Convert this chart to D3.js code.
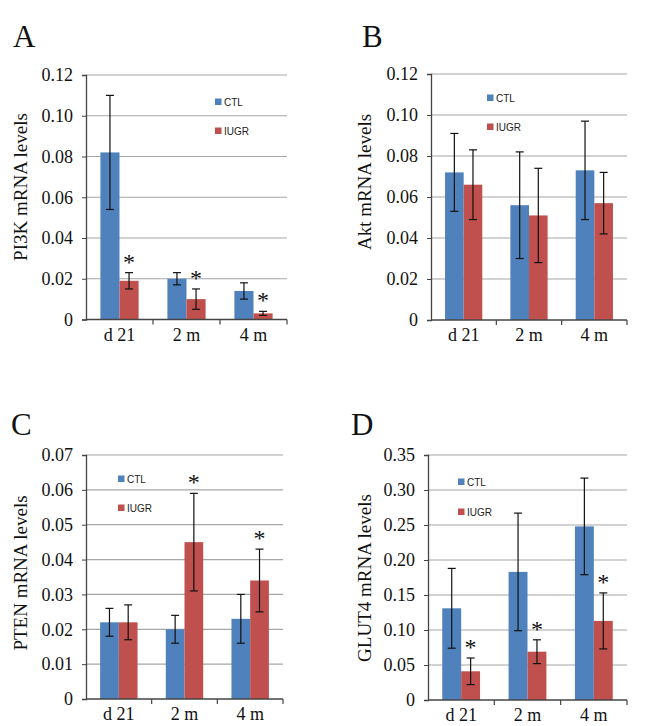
<!DOCTYPE html>
<html><head><meta charset="utf-8">
<script src="https://cdn.jsdelivr.net/npm/d3@7"></script>
<style>body{margin:0;background:#fff}svg{display:block}</style>
</head><body>
<script>
const categories = ["d 21", "2 m", "4 m"];
const seriesNames = ["CTL", "IUGR"];

// Panel A: PI3K
const pi3kCTL = [0.082, 0.020, 0.014];
const pi3kCTLerr = [0.028, 0.003, 0.004];
const pi3kIUGR = [0.019, 0.010, 0.003];
const pi3kIUGRerr = [0.004, 0.005, 0.001];
const pi3kStar = [true, true, true];
const pi3kTicks = [0, 0.02, 0.04, 0.06, 0.08, 0.10, 0.12];

// Panel B: Akt
const aktCTL = [0.072, 0.056, 0.073];
const aktCTLerr = [0.019, 0.026, 0.024];
const aktIUGR = [0.066, 0.051, 0.057];
const aktIUGRerr = [0.017, 0.023, 0.015];
const aktStar = [false, false, false];
const aktTicks = [0, 0.02, 0.04, 0.06, 0.08, 0.10, 0.12];

// Panel C: PTEN
const ptenCTL = [0.022, 0.020, 0.023];
const ptenCTLerr = [0.004, 0.004, 0.007];
const ptenIUGR = [0.022, 0.045, 0.034];
const ptenIUGRerr = [0.005, 0.014, 0.009];
const ptenStar = [false, true, true];
const ptenTicks = [0, 0.01, 0.02, 0.03, 0.04, 0.05, 0.06, 0.07];

// Panel D: GLUT4
const glutCTL = [0.131, 0.183, 0.248];
const glutCTLerr = [0.057, 0.084, 0.069];
const glutIUGR = [0.041, 0.069, 0.113];
const glutIUGRerr = [0.019, 0.017, 0.040];
const glutStar = [true, true, true];
const glutTicks = [0, 0.05, 0.10, 0.15, 0.20, 0.25, 0.30, 0.35];

const colors = {CTL: "#4F81BD", IUGR: "#C0504D"};
const W = 669, H = 726;
const svg = d3.select("body").append("svg").attr("width", W).attr("height", H);

const panels = [
  {letter:"A", lx:13, ly:47, label:"PI3K mRNA levels", labX:20, labY:187,
   x0:86, x1:287, y0:75, y1:319.5, ticks:pi3kTicks,
   ctl:pi3kCTL, ctlE:pi3kCTLerr, iugr:pi3kIUGR, iugrE:pi3kIUGRerr, star:pi3kStar,
   legX:215, legY:[102,131]},
  {letter:"B", lx:362, ly:47, label:"Akt mRNA levels", labX:364, labY:182,
   x0:431, x1:627, y0:74, y1:320, ticks:aktTicks,
   ctl:aktCTL, ctlE:aktCTLerr, iugr:aktIUGR, iugrE:aktIUGRerr, star:aktStar,
   legX:487, legY:[98,127]},
  {letter:"C", lx:11, ly:435, label:"PTEN mRNA levels", labX:20, labY:573,
   x0:86, x1:283, y0:455, y1:699, ticks:ptenTicks,
   ctl:ptenCTL, ctlE:ptenCTLerr, iugr:ptenIUGR, iugrE:ptenIUGRerr, star:ptenStar,
   legX:118, legY:[479,508]},
  {letter:"D", lx:351, ly:435, label:"GLUT4 mRNA levels", labX:364, labY:578,
   x0:428, x1:627, y0:455, y1:700, ticks:glutTicks,
   ctl:glutCTL, ctlE:glutCTLerr, iugr:glutIUGR, iugrE:glutIUGRerr, star:glutStar,
   legX:458, legY:[482,512]}
];

const serif = "'Liberation Serif','Times New Roman',serif";
const sans = "'Liberation Sans',Arial,sans-serif";

panels.forEach(p => {
  const g = svg.append("g");
  const maxV = d3.max(p.ticks);
  const y = d3.scaleLinear().domain([0, maxV]).range([p.y1, p.y0]);
  const x = d3.scaleBand().domain(categories).range([p.x0, p.x1]).padding(0);
  const xs = d3.scaleBand().domain(seriesNames)
     .range([x.bandwidth()*0.215, x.bandwidth()*0.785]).padding(0);

  // gridlines
  g.append("g").selectAll("line").data(p.ticks.filter(t => t > 0)).join("line")
    .attr("x1", p.x0).attr("x2", p.x1)
    .attr("y1", d => y(d)).attr("y2", d => y(d))
    .attr("stroke", "#a6a6a6").attr("stroke-width", 1.2);

  const data = categories.map((c, i) => ({c, i}));
  const series = [
    {name:"CTL", v:p.ctl, e:p.ctlE},
    {name:"IUGR", v:p.iugr, e:p.iugrE}
  ];
  series.forEach(s => {
    g.append("g").selectAll("rect").data(data).join("rect")
      .attr("x", d => x(d.c) + xs(s.name))
      .attr("width", xs.bandwidth())
      .attr("y", d => y(s.v[d.i]))
      .attr("height", d => y(0) - y(s.v[d.i]))
      .attr("fill", colors[s.name]);
  });
  series.forEach(s => {
    const eb = g.append("g").attr("stroke", "#111").attr("stroke-width", 1.2);
    data.forEach(d => {
      const cx = x(d.c) + xs(s.name) + xs.bandwidth()/2;
      const top = y(s.v[d.i] + s.e[d.i]), bot = y(s.v[d.i] - s.e[d.i]);
      eb.append("line").attr("x1", cx).attr("x2", cx).attr("y1", top).attr("y2", bot);
      eb.append("line").attr("x1", cx-4).attr("x2", cx+4).attr("y1", top).attr("y2", top);
      eb.append("line").attr("x1", cx-4).attr("x2", cx+4).attr("y1", bot).attr("y2", bot);
    });
  });
  data.filter(d => p.star[d.i]).forEach(d => {
    const cx = x(d.c) + xs("IUGR") + xs.bandwidth()/2;
    const top = y(p.iugr[d.i] + p.iugrE[d.i]);
    g.append("text").attr("x", cx).attr("y", top - 3)
      .attr("text-anchor", "middle").attr("font-family", serif)
      .attr("font-size", 24).attr("fill", "#111").text("*");
  });

  const yAxis = d3.axisLeft(y).tickValues(p.ticks).tickSize(4).tickPadding(9)
    .tickFormat(d => d === 0 ? "0" : d3.format(".2f")(d));
  const ya = g.append("g").attr("transform", `translate(${p.x0},0)`).call(yAxis);
  ya.select(".domain").attr("stroke", "#444").attr("stroke-width", 1.3);
  ya.selectAll(".tick line").attr("stroke", "#444");
  ya.selectAll("text").attr("font-family", serif).attr("font-size", 18).attr("fill", "#111");

  const xa = g.append("g").attr("transform", `translate(0,${p.y1})`);
  xa.append("line").attr("x1", p.x0).attr("x2", p.x1).attr("y1", 0).attr("y2", 0)
    .attr("stroke", "#444").attr("stroke-width", 1.3);
  xa.selectAll("line.tk").data(categories).join("line").attr("class", "tk")
    .attr("x1", d => x(d) + x.bandwidth()).attr("x2", d => x(d) + x.bandwidth())
    .attr("y1", 0).attr("y2", 5).attr("stroke", "#444").attr("stroke-width", 1.2);
  xa.selectAll("text").data(categories).join("text")
    .attr("x", d => x(d) + x.bandwidth()/2).attr("y", 21)
    .attr("text-anchor", "middle").attr("font-family", serif)
    .attr("font-size", 18).attr("fill", "#111").text(d => d);

  g.append("text").attr("transform", `translate(${p.labX},${p.labY}) rotate(-90)`)
    .attr("text-anchor", "middle").attr("dominant-baseline", "central")
    .attr("font-family", serif).attr("font-size", 19).attr("fill", "#111").text(p.label);

  g.append("text").attr("x", p.lx).attr("y", p.ly).attr("font-family", serif)
    .attr("font-size", 31).attr("fill", "#111").text(p.letter);

  seriesNames.forEach((n, i) => {
    g.append("rect").attr("x", p.legX).attr("y", p.legY[i] - 3.5)
      .attr("width", 6.5).attr("height", 6.5).attr("fill", colors[n]);
    g.append("text").attr("x", p.legX + 9).attr("y", p.legY[i])
      .attr("dominant-baseline", "central").attr("font-family", sans)
      .attr("font-size", 10).attr("fill", "#222").text(n);
  });
});
</script>
</body></html>
